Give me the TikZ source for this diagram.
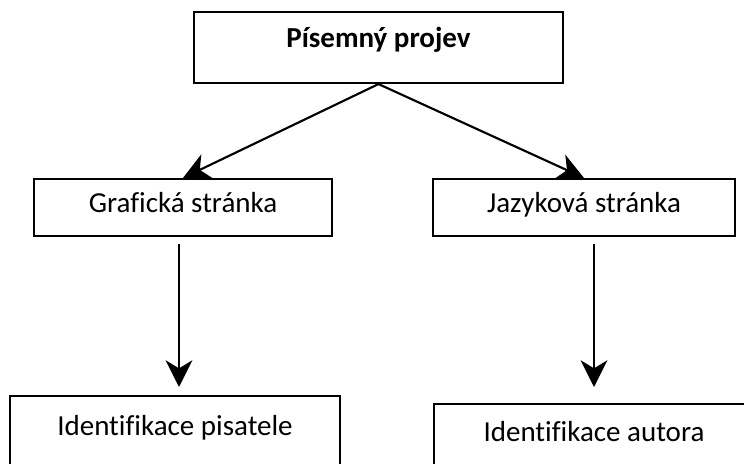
\documentclass[tikz,border=0pt]{standalone}
\usepackage{fontspec}
\setmainfont{Carlito}[Ligatures=NoCommon]
\usetikzlibrary{arrows.meta,positioning}

\begin{document}
\begin{tikzpicture}[x=0.75pt,y=-0.75pt,
		box/.style={draw, line width=1.6pt, inner sep=0pt, text height=0.7em, text depth=0em, font=\fontsize{21.75}{26}\selectfont},
		arr/.style={-{Stealth[length=20pt,width=20pt,inset=6pt]}, line width=1.6pt}]
		\clip (0,0) rectangle (744,464);

		\node[box, minimum width=276.75pt, minimum height=53.25pt, text depth=0.7em, font=\fontsize{21.75}{26}\selectfont\bfseries] (P) at (378.5,47.5) {Písemný projev};
		\node[box, minimum width=223.5pt, minimum height=42.75pt] (G) at (183,207.5) {Grafická stránka};
		\node[box, minimum width=226.5pt, minimum height=42.75pt] (J) at (584,207.5) {Jazyková stránka};
		\node[box, minimum width=247.5pt, minimum height=63pt, text depth=1.045em] (IP) at (175,438) {Identifikace pisatele};
		\node[box, minimum width=240pt, minimum height=57pt, text depth=0.84em] (IA) at (594,442) {Identifikace autora};

		\coordinate (G1) at (179,244);
		\coordinate (G2) at (179,387);
		\coordinate (J1) at (594,244);
		\coordinate (J2) at (594,387);

		\draw[arr] (P.south) -- (G.north);
		\draw[arr] (P.south) -- (J.north);
		\draw[arr] (G1) -- (G2);
		\draw[arr] (J1) -- (J2);
	\end{tikzpicture}
\end{document}
